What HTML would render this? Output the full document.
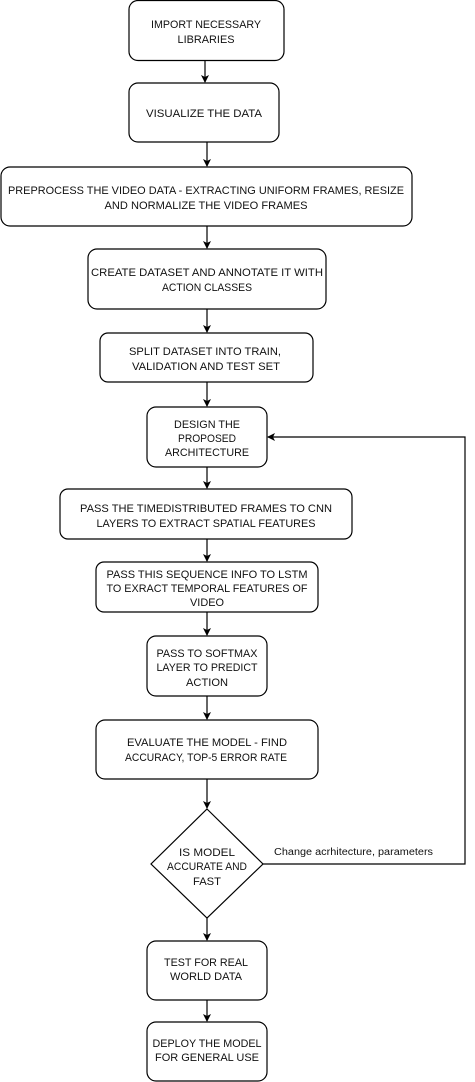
<!DOCTYPE html>
<html><head><meta charset="utf-8"><style>
html,body{margin:0;padding:0;background:#fff;}
svg{display:block;}
text{font-family:"Liberation Sans",sans-serif;font-size:11px;fill:#111;}
</style></head><body>
<svg width="475" height="1082" viewBox="0 0 475 1082" xmlns="http://www.w3.org/2000/svg">
<defs><marker id="a" markerWidth="8" markerHeight="8" refX="7" refY="4" orient="auto" markerUnits="userSpaceOnUse"><path d="M0,0 L8,4 L0,8 L2,4 Z" fill="#000"/></marker></defs>
<g fill="#fff" stroke="#000" stroke-width="1.2">
<rect x="129" y="0.5" width="155" height="60" rx="9"/>
<rect x="129" y="83" width="150" height="59" rx="9"/>
<rect x="1" y="167" width="411" height="59" rx="9"/>
<rect x="88" y="249" width="238" height="60" rx="9"/>
<rect x="100" y="333" width="213" height="49" rx="8"/>
<rect x="147" y="407" width="120" height="60" rx="9"/>
<rect x="60" y="489" width="292" height="50" rx="8"/>
<rect x="96" y="562" width="222" height="50" rx="8"/>
<rect x="147" y="636" width="120" height="60" rx="9"/>
<rect x="96" y="720" width="222" height="59" rx="9"/>
<path d="M207,809 L263,864 L207,918 L151,864 Z"/>
<rect x="147" y="941" width="120" height="59" rx="9"/>
<rect x="147" y="1022" width="120" height="59" rx="9"/>
</g>
<g stroke="#000" stroke-width="1.2" fill="none" marker-end="url(#a)">
<line x1="205" y1="61" x2="205" y2="82"/>
<line x1="207" y1="142" x2="207" y2="166"/>
<line x1="207" y1="226" x2="207" y2="248"/>
<line x1="207" y1="309" x2="207" y2="332"/>
<line x1="207" y1="382" x2="207" y2="406"/>
<line x1="207" y1="467" x2="207" y2="488"/>
<line x1="207" y1="539" x2="207" y2="561"/>
<line x1="207" y1="612" x2="207" y2="635"/>
<line x1="207" y1="696" x2="207" y2="719"/>
<line x1="207" y1="779" x2="207" y2="808"/>
<line x1="207" y1="918" x2="207" y2="940"/>
<line x1="207" y1="1000" x2="207" y2="1021"/>
<polyline points="263,864 465,864 465,437 268,437"/>
</g>
<g text-anchor="middle">
<text x="206" y="28" textLength="110" lengthAdjust="spacingAndGlyphs">IMPORT NECESSARY</text>
<text x="206" y="43" textLength="57" lengthAdjust="spacingAndGlyphs">LIBRARIES</text>
<text x="204" y="117" textLength="116" lengthAdjust="spacingAndGlyphs">VISUALIZE THE DATA</text>
<text x="206" y="194" textLength="396" lengthAdjust="spacingAndGlyphs">PREPROCESS THE VIDEO DATA - EXTRACTING UNIFORM FRAMES, RESIZE</text>
<text x="206" y="209" textLength="203" lengthAdjust="spacingAndGlyphs">AND NORMALIZE THE VIDEO FRAMES</text>
<text x="207" y="276" textLength="232" lengthAdjust="spacingAndGlyphs">CREATE DATASET AND ANNOTATE IT WITH</text>
<text x="207" y="291" textLength="90" lengthAdjust="spacingAndGlyphs">ACTION CLASSES</text>
<text x="205" y="355" textLength="152" lengthAdjust="spacingAndGlyphs">SPLIT DATASET INTO TRAIN,</text>
<text x="206" y="370" textLength="148" lengthAdjust="spacingAndGlyphs">VALIDATION AND TEST SET</text>
<text x="207" y="428" textLength="66" lengthAdjust="spacingAndGlyphs">DESIGN THE</text>
<text x="207" y="442" textLength="58" lengthAdjust="spacingAndGlyphs">PROPOSED</text>
<text x="207" y="456" textLength="84" lengthAdjust="spacingAndGlyphs">ARCHITECTURE</text>
<text x="206" y="512" textLength="252" lengthAdjust="spacingAndGlyphs">PASS THE TIMEDISTRIBUTED FRAMES TO CNN</text>
<text x="206" y="527" textLength="219" lengthAdjust="spacingAndGlyphs">LAYERS TO EXTRACT SPATIAL FEATURES</text>
<text x="207" y="578" textLength="201" lengthAdjust="spacingAndGlyphs">PASS THIS SEQUENCE INFO TO LSTM</text>
<text x="207" y="592" textLength="201" lengthAdjust="spacingAndGlyphs">TO EXRACT TEMPORAL FEATURES OF</text>
<text x="207" y="606" textLength="34" lengthAdjust="spacingAndGlyphs">VIDEO</text>
<text x="207" y="657" textLength="101" lengthAdjust="spacingAndGlyphs">PASS TO SOFTMAX</text>
<text x="207" y="671" textLength="101" lengthAdjust="spacingAndGlyphs">LAYER TO PREDICT</text>
<text x="207" y="686" textLength="42" lengthAdjust="spacingAndGlyphs">ACTION</text>
<text x="207" y="746" textLength="160" lengthAdjust="spacingAndGlyphs">EVALUATE THE MODEL - FIND</text>
<text x="206" y="761" textLength="162" lengthAdjust="spacingAndGlyphs">ACCURACY, TOP-5 ERROR RATE</text>
<text x="207" y="856" textLength="56" lengthAdjust="spacingAndGlyphs">IS MODEL</text>
<text x="207" y="870" textLength="80" lengthAdjust="spacingAndGlyphs">ACCURATE AND</text>
<text x="207" y="885" textLength="28" lengthAdjust="spacingAndGlyphs">FAST</text>
<text x="206" y="966" textLength="84" lengthAdjust="spacingAndGlyphs">TEST FOR REAL</text>
<text x="206" y="980" textLength="72" lengthAdjust="spacingAndGlyphs">WORLD DATA</text>
<text x="207" y="1047" textLength="109" lengthAdjust="spacingAndGlyphs">DEPLOY THE MODEL</text>
<text x="207" y="1061" textLength="104" lengthAdjust="spacingAndGlyphs">FOR GENERAL USE</text>
</g>
<text x="274" y="855" textLength="159" lengthAdjust="spacingAndGlyphs" style="font-size:10px">Change acrhitecture, parameters</text>
</svg>
</body></html>
